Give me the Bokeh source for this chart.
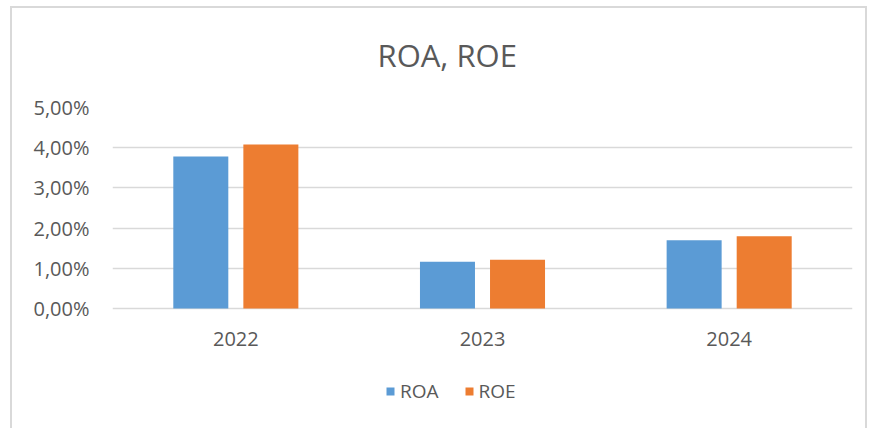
from bokeh.plotting import figure
from bokeh.models import (FactorRange, Range1d, FixedTicker, CustomJSTickFormatter,
                          Legend, LegendItem, ColumnDataSource)
from bokeh.transform import dodge
from bokeh.embed import file_html
from bokeh.resources import INLINE

years = ["2022", "2023", "2024"]
roa = [3.78, 1.16, 1.70]
roe = [4.08, 1.21, 1.80]
y_ticks = [0, 1, 2, 3, 4, 5]
title_text = "ROA, ROE"

BLUE = "#5B9BD5"
ORANGE = "#ED7D31"
GRID = "#D9D9D9"
TEXT = "#595959"
FONT = "Open Sans"

src = ColumnDataSource(dict(year=years, roa=roa, roe=roe))

line = "linear-gradient(#d9d9d9, #d9d9d9)"
p = figure(frame_width=740, frame_height=322,
           x_range=FactorRange(*years, range_padding=0),
           y_range=Range1d(-3.01, 5), output_backend="svg", toolbar_location=None,
           min_border_left=112, min_border_right=18, min_border_top=106,
           min_border_bottom=0,
           styles={"background": f"{line} 10px 6px / 2px 422px no-repeat, "
                                 f"{line} 10px 6px / 856px 2px no-repeat, "
                                 f"{line} 865px 6px / 2px 422px no-repeat, white"})
p.x_range.range_padding = 0
p.outline_line_color = None
p.background_fill_color = None
p.border_fill_color = None

p.title.text = title_text
p.title.align = "left"
p.title.offset = 265
p.title.text_font = FONT
p.title.text_font_size = "31px"
p.title.text_font_style = "normal"
p.title.text_color = TEXT
p.title.standoff = 63

r1 = p.vbar(x=dodge("year", -0.142, range=p.x_range), top="roa", width=0.223,
            source=src, color=BLUE, line_color=None)
r2 = p.vbar(x=dodge("year", 0.142, range=p.x_range), top="roe", width=0.223,
            source=src, color=ORANGE, line_color=None)

p.xaxis.fixed_location = 0
p.yaxis.ticker = FixedTicker(ticks=y_ticks)
p.yaxis.formatter = CustomJSTickFormatter(
    code="return tick.toFixed(2).replace('.', ',') + '%';")
for ax in (p.xaxis[0], p.yaxis[0]):
    ax.axis_line_color = None
    ax.major_tick_line_color = None
    ax.minor_tick_line_color = None
    ax.major_tick_out = 0
    ax.minor_tick_out = 0
    ax.major_label_text_color = TEXT
    ax.major_label_text_font = FONT
    ax.major_label_text_font_size = "20px"
p.yaxis.major_label_standoff = 23
p.xaxis.major_label_standoff = 24
p.xgrid.grid_line_color = None
p.ygrid.grid_line_color = GRID
p.ygrid.grid_line_width = 1.5

legend = Legend(items=[LegendItem(label="ROA", renderers=[r1]),
                       LegendItem(label="ROE", renderers=[r2])],
                orientation="horizontal", location=(273, 25),
                glyph_width=10, glyph_height=10, label_standoff=5, spacing=25,
                padding=0, margin=0, border_line_color=None,
                background_fill_alpha=0, label_text_font=FONT,
                label_text_font_size="19px", label_text_color=TEXT)
p.add_layout(legend, "center")

open("out.html", "w").write(file_html(p, INLINE))
